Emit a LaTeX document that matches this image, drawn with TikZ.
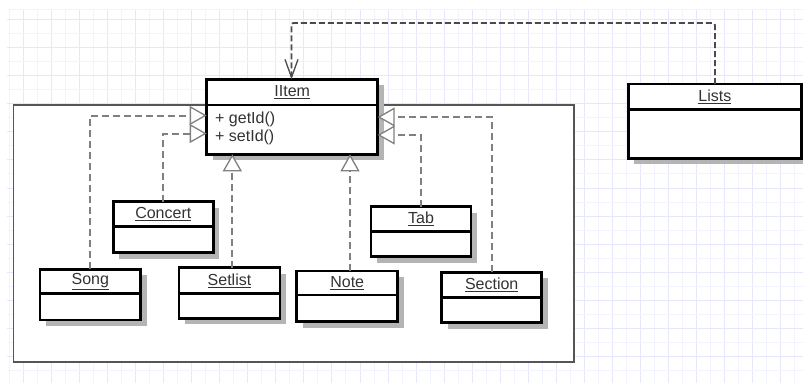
\documentclass[tikz,border=0pt]{standalone}
\usepackage{fontspec}
\setmainfont{Liberation Sans}
\usetikzlibrary{arrows.meta,calc}
\definecolor{gridmin}{RGB}{243,243,255}
\definecolor{gridmaj}{RGB}{230,230,252}
\definecolor{shadowc}{RGB}{180,180,180}
\definecolor{txt}{RGB}{51,51,51}
\definecolor{conn}{RGB}{128,128,128}
\definecolor{dep}{RGB}{75,75,75}
\definecolor{framec}{RGB}{85,85,85}
\tikzset{
  classbox/.style={draw=black, fill=white, line width=2.5pt, inner sep=0pt, outer sep=0pt},
  classline/.style={draw=black, line width=2.5pt},
  classtitle/.style={text=txt, font=\fontsize{16}{19}\selectfont, inner sep=0pt},
  methodtxt/.style={text=txt, font=\fontsize{16}{19}\selectfont, inner sep=0pt, anchor=west},
  realize/.style={draw=conn, line width=2pt, dash pattern=on 7pt off 4pt,
    -{Triangle[open,length=17pt,width=19pt,line width=1.3pt,fill=white]}},
  depend/.style={draw=dep, line width=1.8pt, dash pattern=on 6pt off 3pt, rounded corners=2pt,
    -{Straight Barb[length=18pt,width=13pt,line width=1.3pt]}},
  gridminor/.style={draw=gridmin, line width=1pt},
  gridmajor/.style={draw=gridmaj, line width=1pt},
  container/.style={draw=framec, fill=white, line width=1.5pt},
}
% name, left, top, width, header height, total height, title
\newcommand\umlclass[7]{%
  \fill[shadowc] ({#2+6},{#3+6}) rectangle ++(#4,#6);
  \node[classbox, minimum width=#4, minimum height=#6, anchor=north west] (#1) at (#2,#3) {};
  \draw[classline] (#2,{#3+#5}) -- ++(#4,0);
  \node[classtitle] (#1-t) at ({#2+#4/2},{#3+#5/2}) {\underline{#7}};
}
\begin{document}
\begin{tikzpicture}[x=1pt,y=-1pt]
\useasboundingbox (0,0) rectangle (803,383);
% grid
\foreach \k in {-1,1,...,55} \draw[gridminor] ({23.3+14.03*\k},9.5) -- ({23.3+14.03*\k},383);
\foreach \k in {0,2,...,54} \draw[gridmajor] ({23.3+14.03*\k},9.5) -- ({23.3+14.03*\k},383);
\draw[gridminor] (7,9.5) -- (803,9.5);
\foreach \k in {1,3,...,25} \draw[gridminor] (7,{19.3+14.06*\k}) -- (803,{19.3+14.06*\k});
\foreach \k in {0,2,...,24} \draw[gridmajor] (7,{19.3+14.06*\k}) -- (803,{19.3+14.06*\k});
% container
\draw[container] (13.3,105) rectangle (574,362);
% classes
\umlclass{iitem}{206.7}{79.3}{171}{25.7}{75}{IItem}
\node[methodtxt] (iitem-m1) at (215,119.3) {+ getId()};
\node[methodtxt] (iitem-m2) at (215,137.7) {+ setId()};
\umlclass{lists}{628.3}{84}{173.2}{25.3}{74.3}{Lists}
\umlclass{concert}{113.3}{201.7}{100}{25}{51}{Concert}
\umlclass{song}{40}{269.3}{100.7}{24}{50.7}{Song}
\umlclass{setlist}{179}{267.7}{101}{25.6}{50.6}{Setlist}
\umlclass{note}{296.7}{271}{101}{24}{50.7}{Note}
\umlclass{tab}{371}{206.7}{100}{25}{50}{Tab}
\umlclass{section}{441.7}{272.3}{100}{25.4}{50.4}{Section}
% anchor points on IItem
\coordinate (iL1) at (206.7,115.5);
\coordinate (iL2) at (206.7,133.5);
\coordinate (iR1) at (377.7,117);
\coordinate (iR2) at (377.7,135);
\coordinate (iB1) at (232.3,154.3);
\coordinate (iB2) at (350,154.3);
\coordinate (iT) at (291.5,79.3);
\coordinate (depc) at (291.5,23);
% realizations
\draw[realize] (song.north) |- (iL1);
\draw[realize] (concert.north) |- (iL2);
\draw[realize] (setlist.north -| iB1) -- (iB1);
\draw[realize] (note.north -| iB2) -- (iB2);
\draw[realize] (section.north) |- (iR1);
\draw[realize] (tab.north) |- (iR2);
% dependency
\draw[depend] (lists.north) |- (depc) -- (iT);
\end{tikzpicture}
\end{document}
